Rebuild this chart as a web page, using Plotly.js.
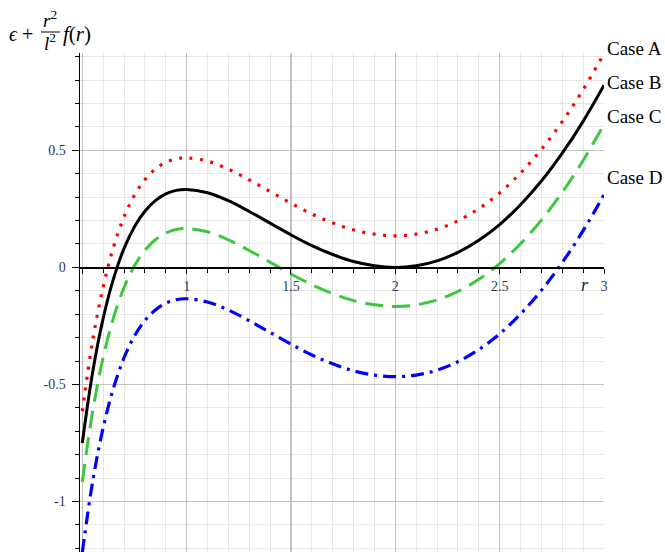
<!DOCTYPE html>
<html>
<head>
<meta charset="utf-8">
<script src="https://cdn.plot.ly/plotly-3.0.1.min.js"></script>
<style>
  html, body { margin: 0; padding: 0; background: #fff; }
  #chart { width: 665px; height: 552px; }
</style>
</head>
<body>
<div id="chart"></div>
<script>
// Radius samples
const rVals = [0.5, 0.55, 0.6, 0.65, 0.7, 0.75, 0.8, 0.85, 0.9, 0.95, 1.0,
  1.1, 1.2, 1.3, 1.4, 1.5, 1.6, 1.7, 1.8, 1.9, 2.0,
  2.1, 2.2, 2.3, 2.4, 2.5, 2.6, 2.7, 2.8, 2.9, 3.0];

// epsilon + r^2/l^2 f(r) for each case
const caseA = [-0.615, -0.311, -0.083, 0.088, 0.216, 0.309, 0.375, 0.420, 0.449, 0.464, 0.468,
  0.454, 0.420, 0.374, 0.324, 0.274, 0.228, 0.190, 0.160, 0.142, 0.135,
  0.142, 0.163, 0.199, 0.251, 0.318, 0.403, 0.504, 0.623, 0.759, 0.913];
const caseB = [-0.750, -0.446, -0.218, -0.047, 0.081, 0.174, 0.240, 0.285, 0.314, 0.329, 0.333,
  0.319, 0.285, 0.239, 0.189, 0.139, 0.093, 0.055, 0.025, 0.007, 0.000,
  0.007, 0.028, 0.064, 0.116, 0.183, 0.268, 0.369, 0.488, 0.624, 0.778];
const caseC = [-0.917, -0.613, -0.385, -0.214, -0.086, 0.007, 0.073, 0.118, 0.147, 0.162, 0.166,
  0.152, 0.118, 0.072, 0.022, -0.028, -0.074, -0.112, -0.142, -0.160, -0.167,
  -0.160, -0.139, -0.103, -0.051, 0.016, 0.101, 0.202, 0.321, 0.457, 0.611];
const caseD = [-1.217, -0.913, -0.685, -0.514, -0.386, -0.293, -0.227, -0.182, -0.153, -0.138, -0.134,
  -0.148, -0.182, -0.228, -0.278, -0.328, -0.374, -0.412, -0.442, -0.460, -0.467,
  -0.460, -0.439, -0.403, -0.351, -0.284, -0.199, -0.098, 0.021, 0.157, 0.311];

const caseNames = ['Case A', 'Case B', 'Case C', 'Case D'];
const caseColors = ['#ff0000', '#000000', '#3cc83c', '#0000ff'];
const caseDashes = ['3px,7.5px', 'solid', '18px,9px', '13px,6px,3px,6px'];
const caseWidths = [3.2, 3, 3, 3.2];
const caseLabelY = [0.935, 0.79, 0.645, 0.385];

const xRange = [0.489, 3.0];
const yRange = [-1.216, 0.916];

const W = 665, H = 552;
const M = { l: 80, r: 61, t: 53, b: 0 };
const plotW = W - M.l - M.r, plotH = H - M.t - M.b;
// pixel position -> paper coordinates (for the stacked-fraction axis title)
const px = x => (x - M.l) / plotW;
const py = y => 1 - (y - M.t) / plotH;
// data value -> paper fraction on the vertical axis
const yFrac = v => (v - yRange[0]) / (yRange[1] - yRange[0]);

const series = [caseA, caseB, caseC, caseD];
const traces = series.map((vals, i) => ({
  x: rVals, y: vals, type: 'scatter', mode: 'lines', name: caseNames[i],
  line: { color: caseColors[i], width: caseWidths[i], dash: caseDashes[i], shape: 'spline', smoothing: 1 },
  hoverinfo: 'skip'
}));

const serif = 'Liberation Serif, Times New Roman, serif';
const tickFont = { family: serif, size: 14, color: '#2a3a58' };

const annotations = caseNames.map((name, i) => ({
  x: xRange[1], y: yFrac(caseLabelY[i]), xref: 'x', yref: 'paper',
  text: name, showarrow: false, xanchor: 'left', yanchor: 'middle', xshift: 1,
  font: { family: serif, size: 19, color: '#000' }
}));

// axis variable at the end of the horizontal axis
annotations.push({
  x: 2.91, y: 0, xref: 'x', yref: 'y', text: '<i>r</i>', showarrow: false,
  xanchor: 'center', yanchor: 'top', yshift: -6,
  font: { family: serif, size: 18, color: '#222' }
});

// vertical axis title: epsilon + r^2/l^2 f(r)
const titleFont = { family: serif, size: 20, color: '#000' };
const smallFont = { family: serif, size: 19, color: '#000' };
annotations.push(
  { x: px(7), y: py(34), xref: 'paper', yref: 'paper', text: '<i>ϵ</i> +', showarrow: false,
    xanchor: 'left', yanchor: 'middle', font: titleFont },
  { x: px(50), y: py(19), xref: 'paper', yref: 'paper', text: '<i>r</i><sup>2</sup>', showarrow: false,
    xanchor: 'center', yanchor: 'middle', font: smallFont },
  { x: px(50), y: py(42), xref: 'paper', yref: 'paper', text: '<i>l</i><sup>2</sup>', showarrow: false,
    xanchor: 'center', yanchor: 'middle', font: smallFont },
  { x: px(61), y: py(34), xref: 'paper', yref: 'paper', text: '<i>f</i>(<i>r</i>)', showarrow: false,
    xanchor: 'left', yanchor: 'middle', font: { family: serif, size: 21, color: '#000' } }
);

const shapes = [{
  type: 'line', xref: 'paper', yref: 'paper',
  x0: px(41), x1: px(60), y0: py(32), y1: py(32),
  line: { color: '#000', width: 1 }
}];

const layout = {
  width: W, height: H, margin: M,
  paper_bgcolor: '#fff', plot_bgcolor: '#fff',
  showlegend: false,
  xaxis: {
    range: xRange, tickmode: 'linear', tick0: 0, dtick: 0.5,
    labelalias: { '0.5': ' ' },
    showgrid: true, gridcolor: '#c2c2c2', gridwidth: 1.5,
    zeroline: false,
    showline: true, linecolor: '#000', linewidth: 1.5,
    ticks: 'outside', ticklen: 5, tickwidth: 1, tickcolor: '#000',
    anchor: 'free', position: yFrac(0),
    tickfont: tickFont,
    minor: { tick0: 0, dtick: 0.1, showgrid: true, gridcolor: '#e6e6e6', gridwidth: 1,
             ticks: 'outside', ticklen: 4, tickcolor: '#000' }
  },
  yaxis: {
    range: yRange, tickmode: 'linear', tick0: 0, dtick: 0.5,
    labelalias: { '−1': '-1', '−0.5': '-0.5' },
    showgrid: true, gridcolor: '#c2c2c2', gridwidth: 1.5,
    zeroline: false,
    showline: true, linecolor: '#000', linewidth: 1.5,
    ticks: 'outside', ticklen: 7, tickwidth: 1, tickcolor: '#000',
    ticklabelstandoff: 3,
    tickfont: tickFont,
    minor: { tick0: 0, dtick: 0.1, showgrid: true, gridcolor: '#e6e6e6', gridwidth: 1,
             ticks: 'outside', ticklen: 4, tickcolor: '#000' }
  },
  annotations: annotations,
  shapes: shapes
};

Plotly.newPlot('chart', traces, layout, { staticPlot: true, displayModeBar: false });
</script>
</body>
</html>
